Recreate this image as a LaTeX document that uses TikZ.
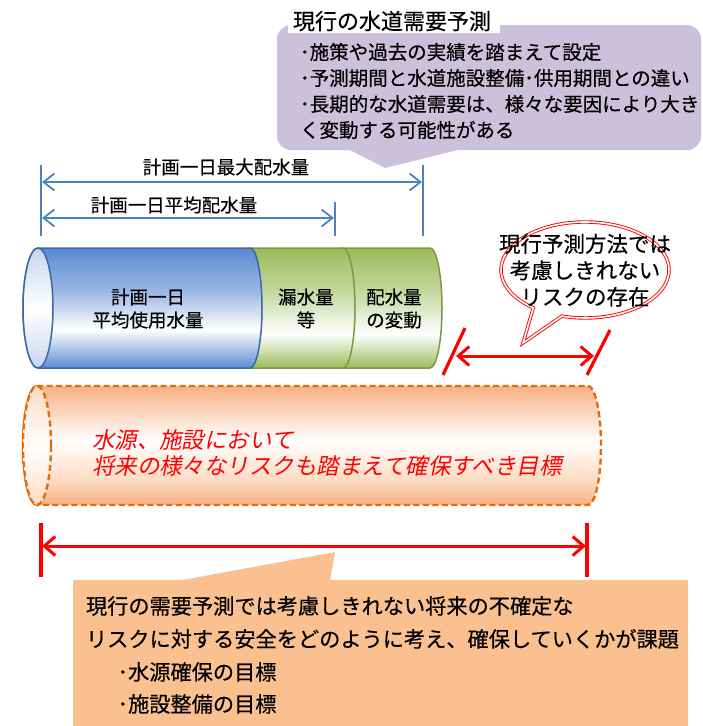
\documentclass[tikz,border=0pt]{standalone}
\usepackage{fontspec}
\setmainfont[FakeBold=0.4]{Noto Sans CJK JP}
\newfontfamily\jpit[FakeSlant=0.2]{Noto Sans CJK JP}
\usetikzlibrary{arrows.meta}
\definecolor{purplebox}{HTML}{CCC1DA}
\definecolor{peach}{HTML}{FAC090}
\definecolor{dimblue}{HTML}{4F81BD}
\definecolor{cylblue}{HTML}{5A8AD2}
\definecolor{cylbluemid}{HTML}{9AB7E4}
\definecolor{cylbluelt}{HTML}{C6D6EE}
\definecolor{cylblueedge}{HTML}{3C68A6}
\definecolor{cylgreen}{HTML}{9BBB59}
\definecolor{cylgreenmid}{HTML}{C4D79E}
\definecolor{cylgreenedge}{HTML}{7A9A3F}
\definecolor{cylorange}{HTML}{F7B083}
\definecolor{cylorangelt}{HTML}{FCDCC4}
\definecolor{dashorange}{HTML}{E46C0A}
\definecolor{alertred}{HTML}{FF0000}
\pgfdeclareverticalshading{blueshade}{100bp}{color(0bp)=(cylblue); color(25bp)=(cylblue); color(41bp)=(white); color(57bp)=(cylbluemid); color(75bp)=(cylblue); color(100bp)=(cylblue)}
\pgfdeclareverticalshading{greenshade}{100bp}{color(0bp)=(cylgreen); color(25bp)=(cylgreen); color(39bp)=(white); color(57bp)=(cylgreenmid); color(75bp)=(cylgreen); color(100bp)=(cylgreen)}
\pgfdeclareverticalshading{orangeshade}{100bp}{color(0bp)=(cylorange); color(25bp)=(cylorange); color(36bp)=(cylorangelt); color(52bp)=(white); color(75bp)=(cylorange); color(100bp)=(cylorange)}
\begin{document}
\begin{tikzpicture}[x=1pt,y=-1pt,
  txt/.style={inner sep=0pt, outer sep=0pt, text=black},
  purpletxt/.style={txt, anchor=base west, font=\fontsize{19.5}{24}\selectfont},
  dimtxt/.style={txt, anchor=base, font=\fontsize{18.5}{22}\selectfont},
  cyltxt/.style={txt, anchor=base, font=\fontsize{18.5}{22}\selectfont},
  bubtxt/.style={txt, anchor=base, font=\fontsize{21.5}{26}\selectfont},
  goaltxt/.style={txt, anchor=base west, text=alertred, font=\jpit\fontsize{22.5}{26}\selectfont},
  boxtxt/.style={txt, anchor=base west, font=\fontsize{21.2}{26}\selectfont},
  dimline/.style={draw=dimblue, line width=2.2pt},
  dimarrow/.style={draw=dimblue, line width=1.8pt, {Straight Barb[length=11pt,width=17pt]}-{Straight Barb[length=11pt,width=17pt]}},
  redline/.style={draw=alertred, line width=3.2pt},
  redarrow/.style={draw=alertred, line width=3pt, {Straight Barb[length=11pt,width=19pt]}-{Straight Barb[length=11pt,width=19pt]}},
  blueedge/.style={draw=cylblueedge, line width=1.5pt},
  greenedge/.style={draw=cylgreenedge, line width=1.5pt},
  orangeedge/.style={draw=dashorange, line width=2.4pt, dash pattern=on 6pt off 3.5pt}
]
\useasboundingbox (0,0) rectangle (702,726);

% ---- purple callout
\fill[purplebox, rounded corners=14pt] (277,25) rectangle (701,150);
\fill[purplebox] (348,149) -- (385,168) -- (462,149) -- cycle;
\fill[white] (288,0) rectangle (500,33);
\node[txt, anchor=base west, font=\fontsize{22}{26}\selectfont] (title) at (293,29.4) {現行の水道需要予測};
\node[purpletxt] (b1) at (300,59.4) {･施策や過去の実績を踏まえて設定};
\node[purpletxt] (b2) at (300,85.4) {･予測期間と水道施設整備･供用期間との違い};
\node[purpletxt] (b3) at (300,111.4) {･長期的な水道需要は、様々な要因により大き};
\node[purpletxt] (b4) at (300,137.4) {く変動する可能性がある};

% ---- blue dimensions
\coordinate (v1t) at (41,165);  \coordinate (v1b) at (41,236);
\coordinate (v2t) at (335,202); \coordinate (v2b) at (335,236);
\coordinate (v3t) at (423,165); \coordinate (v3b) at (423,236);
\draw[dimline] (v1t) -- (v1b);
\draw[dimline] (v2t) -- (v2b);
\draw[dimline] (v3t) -- (v3b);
\coordinate (a1l) at (42,182);  \coordinate (a1r) at (422,182);
\coordinate (a2l) at (42,218);  \coordinate (a2r) at (334,218);
\draw[dimarrow] (a1l) -- (a1r);
\draw[dimarrow] (a2l) -- (a2r);
\node[dimtxt] (lmax) at (226,174) {計画一日最大配水量};
\node[dimtxt] (lavg) at (174,212) {計画一日平均配水量};

% ---- cylinders
\shadedraw[shading=greenshade, greenedge] (343,248) -- (430,248)
  arc[start angle=90, end angle=-90, x radius=12pt, y radius=60pt] -- (343,368)
  arc[start angle=270, end angle=90, x radius=12pt, y radius=60pt] -- cycle;
\shadedraw[shading=greenshade, greenedge] (250,248) -- (343,248)
  arc[start angle=90, end angle=-90, x radius=12pt, y radius=60pt] -- (250,368)
  arc[start angle=270, end angle=90, x radius=12pt, y radius=60pt] -- cycle;
\shadedraw[shading=blueshade, blueedge] (38,248) -- (250,248)
  arc[start angle=90, end angle=-90, x radius=12pt, y radius=60pt] -- (38,368)
  arc[start angle=270, end angle=90, x radius=15pt, y radius=60pt] -- cycle;
\shadedraw[top color=cylbluelt, bottom color=cylbluelt, middle color=white, blueedge]
  (38,308) ellipse[x radius=15pt, y radius=60pt];
\node[cyltxt] (c1a) at (148,304) {計画一日};
\node[cyltxt] (c1b) at (148,327) {平均使用水量};
\node[cyltxt] (c2a) at (306,304) {漏水量};
\node[cyltxt] (c2b) at (306,327) {等};
\node[cyltxt] (c3a) at (394,304) {配水量};
\node[cyltxt] (c3b) at (394,327) {の変動};

% ---- red speech bubble
\draw[alertred, line width=0.9pt, double=white, double distance=1.6pt, fill=white]
  (523,343) -- (533.3,307.8)
  arc[start angle=232, end angle=-106, x radius=84pt, y radius=48pt] -- cycle;
\node[bubtxt] (r1) at (585,252) {現行予測方法では};
\node[bubtxt] (r2) at (585,278.5) {考慮しきれない};
\node[bubtxt] (r3) at (585,305) {リスクの存在};

% ---- red risk dimension
\coordinate (s1b) at (443,375); \coordinate (s1t) at (465,328);
\coordinate (s2b) at (587,375); \coordinate (s2t) at (610,330);
\draw[redline] (s1b) -- (s1t);
\draw[redline] (s2b) -- (s2t);
\coordinate (ral) at (456,356); \coordinate (rar) at (594,356);
\draw[redarrow] (ral) -- (rar);

% ---- orange dashed cylinder
\shadedraw[shading=orangeshade, orangeedge] (37,386) -- (588,386)
  arc[start angle=90, end angle=-90, x radius=13pt, y radius=59.5pt] -- (37,505)
  arc[start angle=270, end angle=90, x radius=14pt, y radius=59.5pt] -- cycle;
\shadedraw[top color=cylorangelt, bottom color=cylorangelt, middle color=white, orangeedge]
  (37,445.5) ellipse[x radius=14pt, y radius=59.5pt];
\node[goaltxt] (g1) at (92,448.5) {水源、施設において};
\node[goaltxt] (g2) at (92,474.5) {将来の様々なリスクも踏まえて確保すべき目標};

% ---- bottom red dimension
\coordinate (w1t) at (41,523); \coordinate (w1b) at (41,577);
\coordinate (w2t) at (587,523); \coordinate (w2b) at (587,577);
\draw[redline] (w1t) -- (w1b);
\draw[redline] (w2t) -- (w2b);
\coordinate (wal) at (42,546); \coordinate (war) at (586,546);
\draw[redarrow] (wal) -- (war);

% ---- bottom peach callout
\fill[peach] (73,580) rectangle (688,726);
\fill[peach] (177,581) -- (335,552) -- (330,581) -- cycle;
\node[boxtxt] (k1) at (86,614) {現行の需要予測では考慮しきれない将来の不確定な};
\node[boxtxt] (k2) at (86,647) {リスクに対する安全をどのように考え、確保していくかが課題};
\node[boxtxt] (k3) at (117.5,680) {･水源確保の目標};
\node[boxtxt] (k4) at (117.5,712) {･施設整備の目標};
\end{tikzpicture}
\end{document}
